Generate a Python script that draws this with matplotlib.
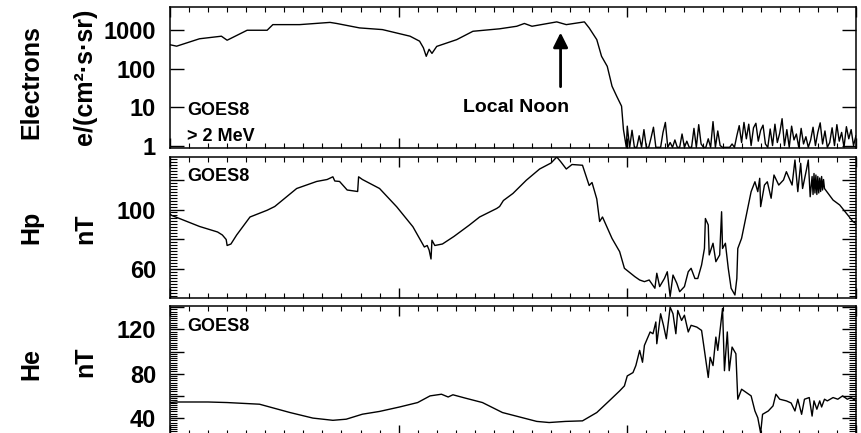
import matplotlib
matplotlib.use("Agg")
import matplotlib.pyplot as plt
import matplotlib.ticker as mticker

plt.rcParams["font.family"] = ["Liberation Sans", "DejaVu Sans"]
plt.rcParams["font.weight"] = "bold"

# ── data (time in hours from start of plot) ─────────────────────────────────

elec_hours = [0.0, 0.7, 3.1, 5.4, 6.0, 8.1, 10.2, 10.8, 13.6, 16.8, 17.5, 19.9,
              22.3, 25.2, 26.2, 26.6, 26.9, 27.2, 27.5, 28.0, 30.1, 31.8, 34.6,
              36.4, 37.2, 38.0, 40.6, 41.6, 43.5, 44.0, 44.8, 45.3, 45.9, 46.4,
              46.9, 47.4, 47.6, 47.9]
elec_flux = [420, 385, 600, 700, 550, 1000, 1000, 1400, 1400, 1600, 1500, 1150,
             1040, 700, 520, 350, 210, 320, 250, 380, 570, 940, 1090,
             1270, 1500, 1270, 1650, 1400, 1650, 1150, 570, 210, 115, 35,
             19, 10.6, 2.6, 0.9]
# background counts after the dropout, one sample every 15 min from 48 h
elec_tail_start = 48.0
elec_tail_step = 0.25
elec_tail = [3.2, 0.9, 2.5, 0.9, 0.9, 1.8, 0.9, 2.6, 0.9, 0.9, 1.6, 3.0, 0.9,
             0.9, 0.9, 2.2, 4.0, 0.9, 1.2, 0.9, 1.4, 0.9, 0.9, 2.0, 0.9, 1.3,
             0.9, 0.9, 2.8, 0.9, 3.5, 1.1, 0.9, 0.9, 1.5, 0.9, 4.2, 0.9, 2.4,
             1.0, 0.9, 0.9, 0.9, 0.9, 1.1, 0.9, 1.8, 3.3, 1.2, 4.0, 1.5, 3.6,
             1.0, 2.9, 3.8, 1.3, 2.5, 3.4, 1.1, 0.9, 2.7, 1.0, 3.6, 1.2, 2.1,
             5.0, 1.0, 2.6, 0.9, 3.2, 1.4, 2.0, 0.9, 2.8, 1.1, 1.7, 0.9, 1.4,
             3.0, 1.0, 2.2, 3.9, 1.1, 2.4, 0.9, 1.2, 2.9, 1.0, 3.5, 1.3, 2.2,
             0.9, 3.1, 1.5, 2.6, 1.0, 1.8]

hp_hours = [0.0, 0.2, 3.1, 5.0, 5.5, 5.9, 6.0, 6.4, 7.0, 8.4, 10.2, 11.0, 13.3,
            15.4, 16.5, 17.1, 17.3, 17.8, 18.6, 19.7, 19.8, 20.2, 22.0, 23.8,
            25.5, 26.7, 27.0, 27.2, 27.4, 27.5, 27.8, 28.6, 29.8, 31.4, 32.5,
            34.3, 34.6, 35.0, 36.0, 37.4, 38.8, 40.0, 40.6, 41.0, 41.6, 42.2,
            43.3, 44.0, 44.3, 44.8, 45.1, 45.4, 46.4, 47.2, 47.7, 48.8, 49.3,
            49.8, 50.3, 50.9, 51.1, 51.4, 51.9, 52.2, 52.5, 52.8, 53.2, 53.5,
            54.0, 54.4, 54.7, 55.1, 55.4, 55.8, 56.1, 56.2, 56.5, 56.6, 57.0,
            57.3, 57.7, 57.9, 58.0, 58.3, 58.6, 58.9, 59.3, 59.5, 59.6, 60.0,
            60.5, 61.0, 61.4, 61.7, 61.9, 62.0, 62.4, 62.7, 63.1, 63.4, 63.9,
            64.4, 64.7, 65.3, 65.6, 65.9, 66.2, 66.4, 66.8, 67.0, 67.2, 67.4,
            67.5, 67.6, 67.7, 67.8, 67.9, 68.0, 68.1, 68.2, 68.3, 68.4, 68.5,
            68.6, 68.7, 69.6, 70.3, 71.0, 71.7, 72.0]
hp_nt = [97, 96, 88.7, 85, 83, 80, 76, 77, 83, 95, 99.5, 102, 114,
         118.7, 120, 121.8, 119, 118.7, 113, 112, 121.8, 120, 114, 101.8,
         88.5, 75, 76, 73, 67, 79.5, 76, 77, 82, 89.5, 95,
         100.7, 102, 106, 110.7, 119.5, 127, 131, 135, 132, 127, 130,
         129.5, 116, 118, 107, 92, 95, 80.7, 71.9, 60.8, 55.2, 53,
         51.9, 53, 47.5, 57.5, 48.6, 54, 58.5, 42, 56.3, 50.8, 45.2,
         48.6, 58.5, 60.8, 54, 54, 63, 74, 94, 89.7, 69.7, 77.5,
         65.2, 69.7, 98.5, 74, 77.5, 60.8, 47.5, 43, 54, 74, 80.8,
         96.3, 111.9, 118.5, 111.9, 120.8, 101.9, 116.3, 118.5, 107.5, 123, 116.3,
         119.7, 125.2, 116.3, 133, 111.9, 130.8, 114, 126.3, 133, 108.5, 122,
         110, 124, 111, 123, 110, 122, 111, 121, 112, 122, 113,
         120, 114, 106.3, 103, 97.5, 91.9, 90.7]

he_hours = [0.0, 0.7, 4.0, 6.0, 9.4, 12.6, 15.0, 17.1, 18.5, 20.2, 22.0, 24.1,
            26.0, 27.3, 28.5, 29.2, 29.7, 31.0, 32.8, 34.9, 36.7, 38.5, 39.8,
            41.5, 43.3, 44.8, 46.1, 47.2, 47.7, 48.0, 48.6, 48.9, 49.3, 49.6,
            49.8, 50.4, 50.7, 51.0, 51.1, 51.5, 51.8, 52.1, 52.5, 52.8, 53.1,
            53.3, 53.7, 54.0, 54.4, 54.7, 55.3, 55.8, 56.1, 56.5, 56.7, 57.0,
            57.3, 57.5, 57.7, 58.0, 58.2, 58.5, 58.7, 59.0, 59.4, 59.6, 60.0,
            60.5, 61.0, 61.4, 61.7, 62.0, 62.2, 62.8, 63.3, 63.6, 64.0, 64.7,
            65.2, 65.6, 65.9, 66.3, 66.6, 67.1, 67.4, 67.6, 67.9, 68.2, 68.4,
            68.7, 69.0, 69.6, 70.1, 70.6, 71.1, 71.5, 72.0]
he_nt = [54, 54.5, 54.5, 54, 52.5, 45, 40, 38, 39, 43.5, 46, 50,
         54, 60, 61.5, 59, 61, 58, 54, 45, 41, 37, 36,
         37, 37.5, 45, 55.5, 64.5, 69, 78, 81, 87.3, 101, 90.3,
         105.5, 117.6, 116, 126.6, 107, 134, 123.6, 111.5, 140, 134, 116,
         137, 128, 132.7, 117.6, 123.6, 122, 119, 101, 76.6, 94.8, 87.3,
         113, 101, 116, 138.8, 82.7, 117.6, 82.7, 104, 98, 57, 66,
         63, 60, 46.4, 40.3, 26.6, 43.4, 46.4, 51, 61.5, 57, 55.5,
         53.6, 46.4, 57, 43.4, 57, 58.5, 41.8, 55.5, 48, 55.5, 50,
         57, 55.5, 58.5, 57, 60, 57, 58.5, 55.5]

noon_hour = 41.0

# ── helpers ─────────────────────────────────────────────────────────────────

TXT = dict(fontsize=13, fontweight="bold")


def _style(ax):
    for s in ax.spines.values():
        s.set_linewidth(1.1)
    ax.set_xlim(0, 72)
    ax.xaxis.set_major_locator(mticker.MultipleLocator(24))
    ax.xaxis.set_minor_locator(mticker.MultipleLocator(2))
    ax.tick_params(axis="x", which="both", direction="in", top=True,
                   bottom=True, labelbottom=False)
    ax.tick_params(axis="x", which="major", length=7, width=1)
    ax.tick_params(axis="x", which="minor", length=3.5, width=0.8)
    ax.tick_params(axis="y", which="both", direction="in", left=True,
                   right=True, labelsize=17, pad=10)
    ax.tick_params(axis="y", which="major", length=10, width=1)
    ax.tick_params(axis="y", which="minor", length=5, width=0.8)
    for lab in ax.get_yticklabels():
        lab.set_fontweight("bold")


def _only(keep):
    return mticker.FuncFormatter(lambda v, _: f"{v:.0f}" if round(v) in keep else "")


# ── figure ──────────────────────────────────────────────────────────────────

fig = plt.figure(figsize=(8.61, 4.33), dpi=100)
left, width = 0.1974, 0.7967
ax1 = fig.add_axes([left, 0.658, width, 0.3256])
ax2 = fig.add_axes([left, 0.3118, width, 0.3256])
ax3 = fig.add_axes([left, -0.004, width, 0.2973])

# electrons
tail_hours = [elec_tail_start + i * elec_tail_step for i in range(len(elec_tail))]
ax1.plot(elec_hours + tail_hours, elec_flux + elec_tail, color="black", lw=1.0)
ax1.set_yscale("log")
ax1.set_ylim(0.86, 4000)
ax1.yaxis.set_major_locator(mticker.FixedLocator([1, 10, 100, 1000]))
ax1.yaxis.set_major_formatter(mticker.FuncFormatter(lambda v, _: f"{v:.0f}"))
ax1.yaxis.set_minor_locator(mticker.LogLocator(base=10, subs=range(2, 10)))
ax1.yaxis.set_minor_formatter(mticker.NullFormatter())
_style(ax1)
ax1.text(0.025, 0.27, "GOES8", transform=ax1.transAxes, va="center", **TXT)
ax1.text(0.025, 0.085, "> 2 MeV", transform=ax1.transAxes, va="center", **TXT)
ax1.annotate("", xy=(noon_hour, 870), xytext=(noon_hour, 34),
             arrowprops=dict(arrowstyle="-|>", lw=2, color="black",
                             mutation_scale=22, shrinkA=0, shrinkB=0))
ax1.text(36.3, 9.5, "Local Noon", ha="center", va="center", fontsize=14,
         fontweight="bold")

# Hp
ax2.plot(hp_hours, hp_nt, color="black", lw=1.0)
ax2.set_ylim(41, 135)
ax2.yaxis.set_major_locator(mticker.FixedLocator([60, 80, 100, 120]))
ax2.yaxis.set_major_formatter(_only({60, 100}))
ax2.yaxis.set_minor_locator(mticker.MultipleLocator(2))
_style(ax2)
ax2.text(0.025, 0.865, "GOES8", transform=ax2.transAxes, va="center", **TXT)

# He
ax3.plot(he_hours, he_nt, color="black", lw=1.0)
ax3.set_ylim(25, 141)
ax3.yaxis.set_major_locator(mticker.FixedLocator([40, 60, 80, 100, 120, 140]))
ax3.yaxis.set_major_formatter(_only({40, 80, 120}))
ax3.yaxis.set_minor_locator(mticker.MultipleLocator(2))
_style(ax3)
ax3.text(0.025, 0.84, "GOES8", transform=ax3.transAxes, va="center", **TXT)

# rotated axis labels
LBL = dict(rotation=90, ha="center", va="center", fontsize=18, fontweight="bold")
fig.text(0.037, 0.81, "Electrons", **LBL)
fig.text(0.099, 0.822, "e/(cm²·s·sr)", **LBL)
fig.text(0.037, 0.476, "Hp", **LBL)
fig.text(0.099, 0.471, "nT", **LBL)
fig.text(0.037, 0.16, "He", **LBL)
fig.text(0.099, 0.164, "nT", **LBL)

fig.savefig("out.png", dpi=100)
